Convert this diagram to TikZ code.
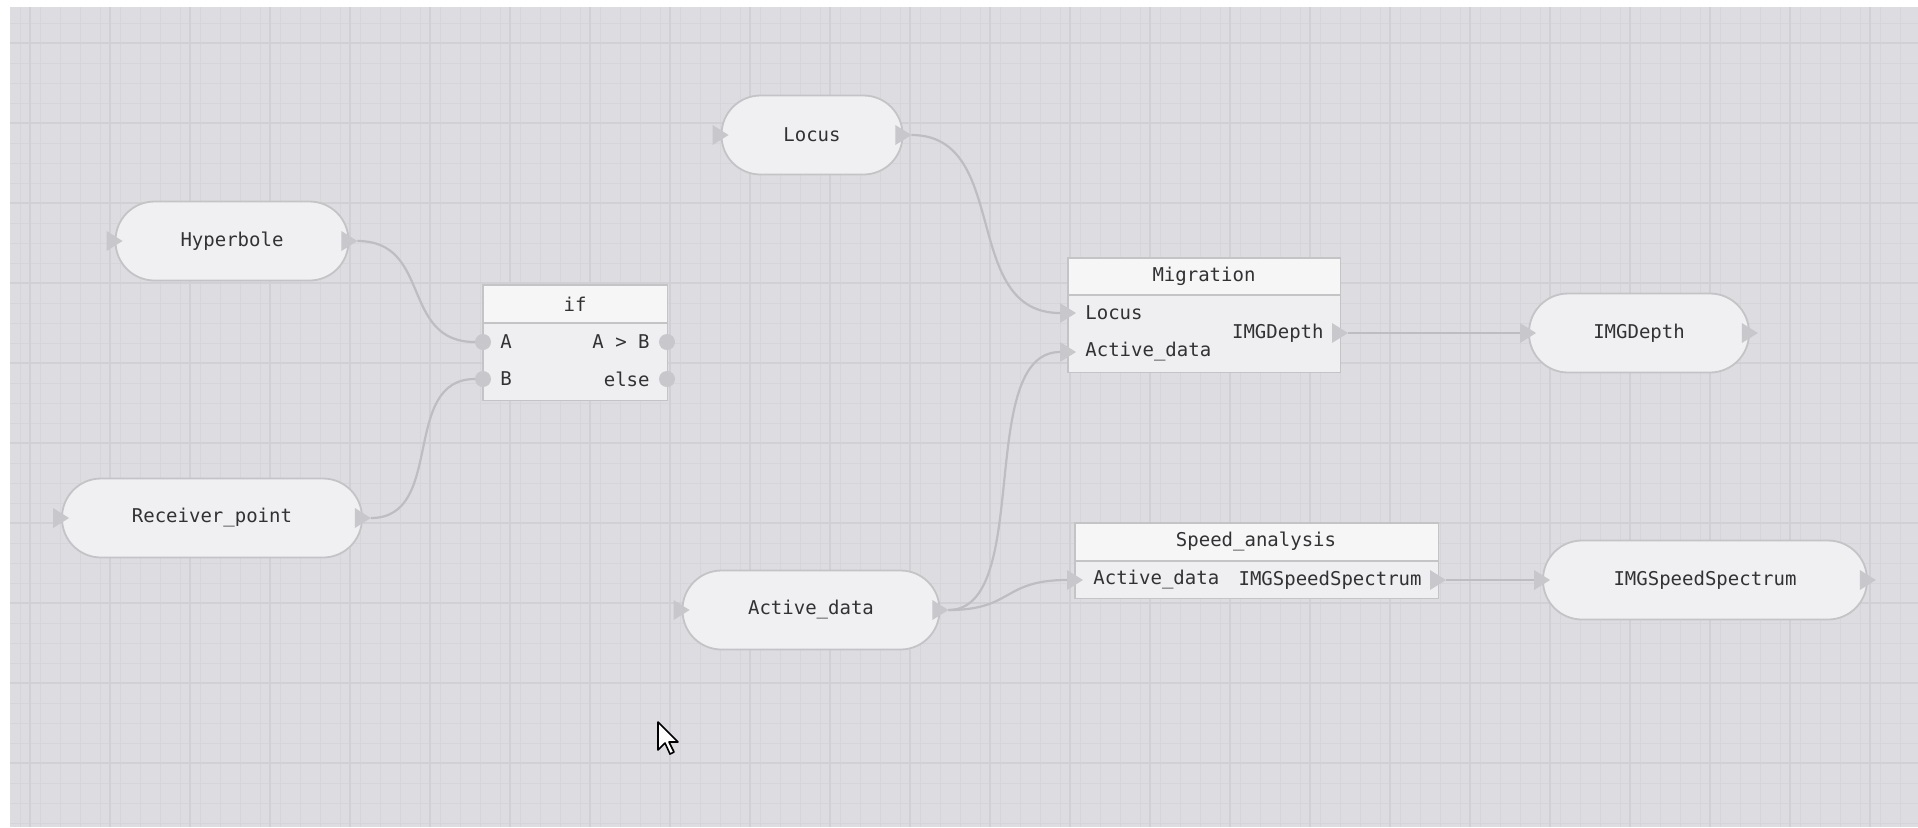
\documentclass[tikz,border=0pt]{standalone}
\usepackage{fontspec}
\newfontfamily\monof{DejaVu Sans Mono}
\usetikzlibrary{calc}

\definecolor{canvas}{RGB}{221,220,225}
\definecolor{gridminor}{RGB}{214,213,218}
\definecolor{gridmajor}{RGB}{209,208,213}
\definecolor{pillfill}{RGB}{240,239,242}
\definecolor{pillline}{RGB}{196,196,199}
\definecolor{headfill}{RGB}{246,246,247}
\definecolor{bodyfill}{RGB}{239,239,241}
\definecolor{wirec}{RGB}{190,190,194}
\definecolor{portc}{RGB}{200,200,204}
\definecolor{txt}{RGB}{50,50,52}

\tikzset{
  pill/.style={draw=pillline, line width=0.9pt, fill=pillfill, inner sep=0pt,
    rounded corners=19.5pt, minimum height=39.5pt,
    font=\monof\fontsize{9.5}{11}\selectfont, text=txt},
  blockbox/.style={fill=bodyfill, inner sep=0pt},
  boxline/.style={draw=pillline, line width=0.9pt},
  lbl/.style={inner sep=0pt, font=\monof\fontsize{9.5}{11}\selectfont, text=txt},
  wire/.style={draw=wirec, line width=1.1pt},
  gridlo/.style={draw=gridminor, line width=0.5pt},
  gridhi/.style={draw=gridmajor, line width=0.6pt},
}

% triangular port marker pointing right, centred on a point
\newcommand\porttri[1]{\fill[portc] ([shift={(-8,-10)}]#1) -- ++(16,10) -- ++(-16,10) -- cycle;}
% round port marker
\newcommand\portdot[1]{\fill[portc] (#1) circle[radius=4pt];}

\begin{document}
\begin{tikzpicture}[x=0.5pt,y=-0.5pt]
% canvas and grid
\fill[white] (0,0) rectangle (1918,827);
\useasboundingbox (0,0) rectangle (1918,827);
\fill[canvas] (10,7) rectangle (1918,827);
\foreach \x in {20,40,...,1900} {\draw[gridlo] (\x,7) -- (\x,827);}
\foreach \y in {23,43,...,823} {\draw[gridlo] (10,\y) -- (1918,\y);}
\foreach \x in {30,110,...,1910} {\draw[gridhi] (\x,7) -- (\x,827);}
\foreach \y in {43,123,...,823} {\draw[gridhi] (10,\y) -- (1918,\y);}

% source and sink nodes
\node[pill, minimum width=116.5pt] (hyp)  at (232,241) {Hyperbole};
\node[pill, minimum width=150pt]   (rec)  at (212,518) {Receiver\_point};
\node[pill, minimum width=90.5pt]  (loc)  at (812,135) {Locus};
\node[pill, minimum width=128.5pt] (act)  at (811,610) {Active\_data};
\node[pill, minimum width=110pt]   (imgd) at (1639,333) {IMGDepth};
\node[pill, minimum width=162pt]   (imgs) at (1705,580) {IMGSpeedSpectrum};

\foreach \n in {hyp,rec,loc,act,imgd,imgs}{
  \porttri{\n.west}
  \porttri{\n.east}
}

% if block
\node[blockbox, minimum width=92pt, minimum height=57.5pt] (ifb) at (575,342.5) {};
\path (ifb.north west) ++(0,38) coordinate (ifh);
\fill[headfill] (ifb.north west) rectangle (ifh -| ifb.east);
\draw[pillline, line width=0.9pt] (ifh) -- (ifh -| ifb.east);
\draw[boxline] (ifb.north west) rectangle (ifb.south east);
\node[lbl] (ifT) at (575,304) {if};
\node[lbl, anchor=west] (ifAl) at (500,342) {A};
\node[lbl, anchor=west] (ifBl) at (500,379) {B};
\node[lbl, anchor=east] (ifGt) at (650,342) {A > B};
\node[lbl, anchor=east] (ifEl) at (650,379) {else};
\coordinate (ifA) at (483,342);
\coordinate (ifB) at (483,379);
\coordinate (ifO1) at (667,342);
\coordinate (ifO2) at (667,379);
\foreach \p in {ifA,ifB,ifO1,ifO2} {\portdot{\p}}

% Migration block
\node[blockbox, minimum width=136pt, minimum height=57pt] (mig) at (1204,315) {};
\path (mig.north west) ++(0,37) coordinate (migh);
\fill[headfill] (mig.north west) rectangle (migh -| mig.east);
\draw[pillline, line width=0.9pt] (migh) -- (migh -| mig.east);
\draw[boxline] (mig.north west) rectangle (mig.south east);
\node[lbl] (migT) at (1204,276) {Migration};
\node[lbl, anchor=west] (migL) at (1085,313) {Locus};
\node[lbl, anchor=west] (migA) at (1085,352) {Active\_data};
\node[lbl, anchor=east] (migO) at (1324,333) {IMGDepth};
\coordinate (migInL) at (1068,313);
\coordinate (migInA) at (1068,352);
\coordinate (migOut) at (1340,333);
\foreach \p in {migInL,migInA,migOut} {\porttri{\p}}

% Speed_analysis block
\node[blockbox, minimum width=181.5pt, minimum height=37.5pt] (spd) at (1256.5,560.5) {};
\path (spd.north west) ++(0,38) coordinate (spdh);
\fill[headfill] (spd.north west) rectangle (spdh -| spd.east);
\draw[pillline, line width=0.9pt] (spdh) -- (spdh -| spd.east);
\draw[boxline] (spd.north west) rectangle (spd.south east);
\node[lbl] (spdT) at (1256,541) {Speed\_analysis};
\node[lbl, anchor=west] (spdA) at (1093,580) {Active\_data};
\node[lbl, anchor=east] (spdO) at (1422,580) {IMGSpeedSpectrum};
\coordinate (spdIn) at (1075,580);
\coordinate (spdOut) at (1438,580);
\foreach \p in {spdIn,spdOut} {\porttri{\p}}

% connectors
\path (hyp.east) ++(8,0) coordinate (hypOut);
\path (rec.east) ++(8,0) coordinate (recOut);
\path (loc.east) ++(8,0) coordinate (locOut);
\path (act.east) ++(8,0) coordinate (actOut);
\path (imgd.west) ++(-8,0) coordinate (imgdIn);
\path (imgs.west) ++(-8,0) coordinate (imgsIn);
\path (migOut) ++(8,0) coordinate (migTip);
\path (spdOut) ++(8,0) coordinate (spdTip);

\draw[wire] (hypOut) .. controls +(75,0) and +(-75,0) .. ([xshift=-4pt]ifA);
\draw[wire] (recOut) .. controls +(75,0) and +(-75,0) .. ([xshift=-4pt]ifB);
\draw[wire] (locOut) .. controls +(100,0) and +(-100,0) .. ([xshift=-4pt]migInL);
\draw[wire] (actOut) .. controls +(85,0) and +(-85,0) .. ([xshift=-4pt]migInA);
\draw[wire] (actOut) .. controls +(65,0) and +(-65,0) .. ([xshift=-4pt]spdIn);
\draw[wire] (migTip) -- (imgdIn);
\draw[wire] (spdTip) -- (imgsIn);

% mouse pointer
\node[inner sep=0pt] (cur) at (658,722) {};
\filldraw[fill=white, draw=black, line width=0.8pt, line join=round]
  (cur.center) -- ++(0,28) -- ++(7,-7) -- ++(5,11) -- ++(4,-2) -- ++(-5,-10) -- ++(9,0) -- cycle;
\end{tikzpicture}
\end{document}
